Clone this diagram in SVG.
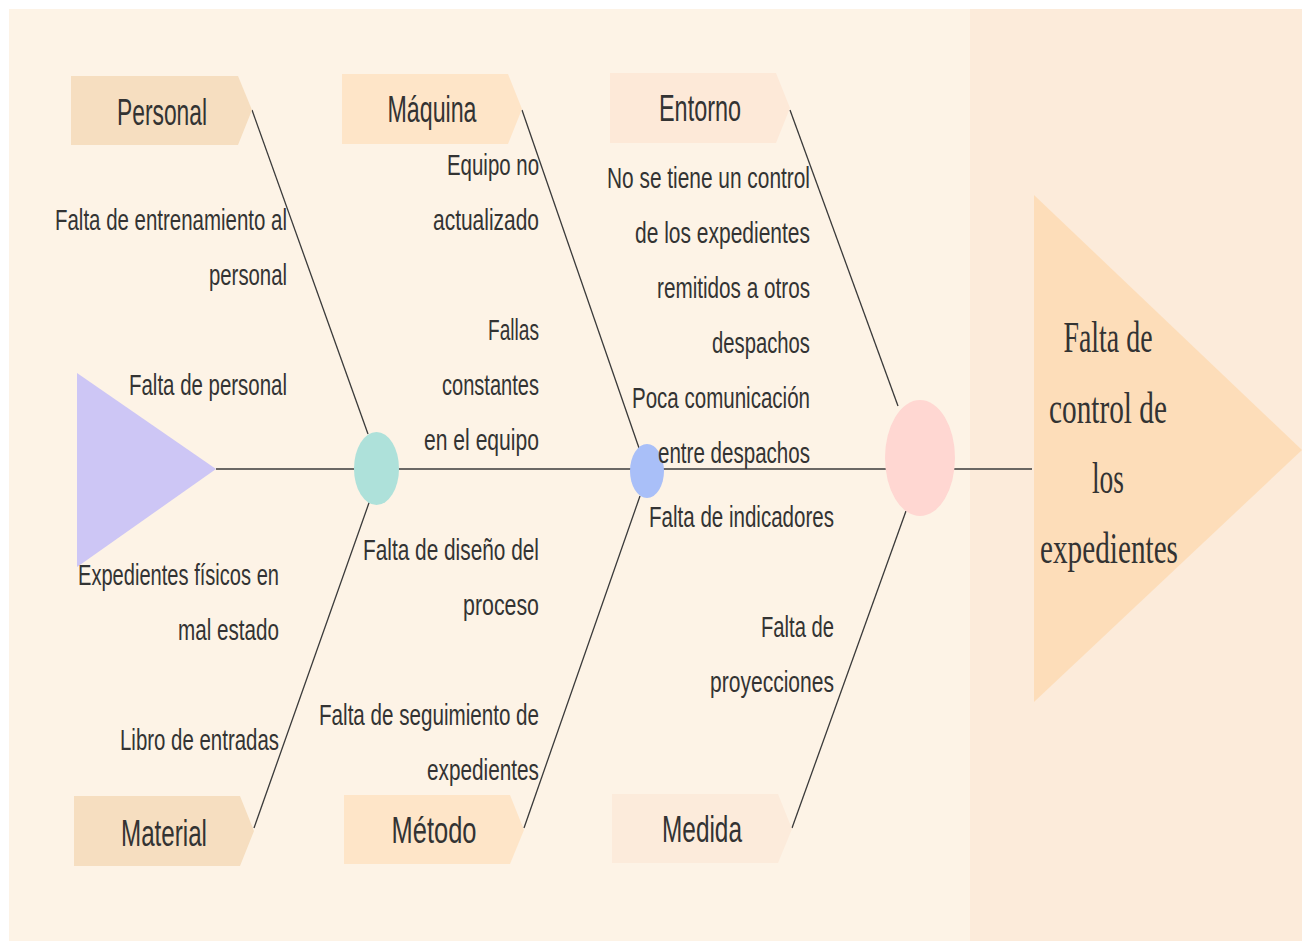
<svg xmlns="http://www.w3.org/2000/svg" width="1302" height="941" viewBox="0 0 1302 941">
<style>
.cat{font-family:"Liberation Sans",Arial,sans-serif;font-size:37px;fill:#333;text-anchor:middle}
.c{font-family:"Liberation Sans",Arial,sans-serif;font-size:29px;fill:#333;text-anchor:end}
.t{font-family:"Liberation Serif","Times New Roman",serif;font-size:44px;fill:#333;text-anchor:middle}
.bone{stroke:#3a3a3a;stroke-width:1.3;fill:none}
</style>
<rect x="0" y="0" width="1302" height="941" fill="#ffffff"/>
<rect x="9" y="9" width="1293" height="932" fill="#FDF3E6"/>
<rect x="970" y="9" width="332" height="932" fill="#FCEBDA"/>

<g id="connectors">
<line class="bone" x1="216" y1="469" x2="1032" y2="469"/>
<line class="bone" x1="252" y1="110" x2="368" y2="434"/>
<line class="bone" x1="522" y1="110" x2="639" y2="448"/>
<line class="bone" x1="790" y1="110" x2="898" y2="406"/>
<line class="bone" x1="254" y1="828" x2="370" y2="500"/>
<line class="bone" x1="524" y1="828" x2="640" y2="496"/>
<line class="bone" x1="792" y1="828" x2="906" y2="511"/>
</g>

<g id="tail"><polygon points="77,373 216,469 77,567" fill="#CDC6F5"/></g>
<g id="head">
<polygon points="1034,195 1302,450 1034,702" fill="#FDDDB9"/>
<text class="t" x="1108" y="352" textLength="89" lengthAdjust="spacingAndGlyphs">Falta de</text>
<text class="t" x="1108" y="423" textLength="118" lengthAdjust="spacingAndGlyphs">control de</text>
<text class="t" x="1108" y="493" textLength="32" lengthAdjust="spacingAndGlyphs">los</text>
<text class="t" x="1109" y="563" textLength="138" lengthAdjust="spacingAndGlyphs">expedientes</text>
</g>

<g id="node-teal"><ellipse cx="376.5" cy="468.5" rx="22.5" ry="36.5" fill="#AEE1DA"/></g>
<g id="node-blue"><ellipse cx="647" cy="471" rx="17" ry="27" fill="#A9BFF8"/></g>
<g id="node-pink"><ellipse cx="920" cy="458" rx="35" ry="58" fill="#FFD7D2"/></g>

<g id="cat-personal">
<polygon points="71,76 238,76 252,110 238,145 71,145" fill="#F6DEC0"/>
<text class="cat" x="162" y="125" textLength="90" lengthAdjust="spacingAndGlyphs">Personal</text>
</g>
<g id="cat-maquina">
<polygon points="342,74 508,74 522,109 508,144 342,144" fill="#FEE5C8"/>
<text class="cat" x="432" y="122" textLength="89" lengthAdjust="spacingAndGlyphs">Máquina</text>
</g>
<g id="cat-entorno">
<polygon points="610,73 776,73 790,108 776,143 610,143" fill="#FDE9D8"/>
<text class="cat" x="700" y="121" textLength="82" lengthAdjust="spacingAndGlyphs">Entorno</text>
</g>
<g id="cat-material">
<polygon points="74,796 240,796 254,831 240,866 74,866" fill="#F6DEC0"/>
<text class="cat" x="164" y="846" textLength="86" lengthAdjust="spacingAndGlyphs">Material</text>
</g>
<g id="cat-metodo">
<polygon points="344,795 510,795 524,830 510,864 344,864" fill="#FEE5C8"/>
<text class="cat" x="434" y="843" textLength="85" lengthAdjust="spacingAndGlyphs">Método</text>
</g>
<g id="cat-medida">
<polygon points="612,794 778,794 792,829 778,863 612,863" fill="#FCEBDB"/>
<text class="cat" x="702" y="842" textLength="80" lengthAdjust="spacingAndGlyphs">Medida</text>
</g>

<g id="causes-personal">
<text class="c" x="287" y="230" textLength="232" lengthAdjust="spacingAndGlyphs">Falta de entrenamiento al</text>
<text class="c" x="287" y="285" textLength="78" lengthAdjust="spacingAndGlyphs">personal</text>
<text class="c" x="287" y="395" textLength="158" lengthAdjust="spacingAndGlyphs">Falta de personal</text>
</g>
<g id="causes-material">
<text class="c" x="279" y="585" textLength="201" lengthAdjust="spacingAndGlyphs">Expedientes físicos en</text>
<text class="c" x="279" y="640" textLength="101" lengthAdjust="spacingAndGlyphs">mal estado</text>
<text class="c" x="279" y="750" textLength="159" lengthAdjust="spacingAndGlyphs">Libro de entradas</text>
</g>
<g id="causes-maquina">
<text class="c" x="539" y="175" textLength="92" lengthAdjust="spacingAndGlyphs">Equipo no</text>
<text class="c" x="539" y="230" textLength="106" lengthAdjust="spacingAndGlyphs">actualizado</text>
<text class="c" x="539" y="340" textLength="51" lengthAdjust="spacingAndGlyphs">Fallas</text>
<text class="c" x="539" y="395" textLength="97" lengthAdjust="spacingAndGlyphs">constantes</text>
<text class="c" x="539" y="450" textLength="115" lengthAdjust="spacingAndGlyphs">en el equipo</text>
</g>
<g id="causes-metodo">
<text class="c" x="539" y="560" textLength="176" lengthAdjust="spacingAndGlyphs">Falta de diseño del</text>
<text class="c" x="539" y="615" textLength="76" lengthAdjust="spacingAndGlyphs">proceso</text>
<text class="c" x="539" y="725" textLength="220" lengthAdjust="spacingAndGlyphs">Falta de seguimiento de</text>
<text class="c" x="539" y="780" textLength="112" lengthAdjust="spacingAndGlyphs">expedientes</text>
</g>
<g id="causes-entorno">
<text class="c" x="810" y="188" textLength="203" lengthAdjust="spacingAndGlyphs">No se tiene un control</text>
<text class="c" x="810" y="243" textLength="175" lengthAdjust="spacingAndGlyphs">de los expedientes</text>
<text class="c" x="810" y="298" textLength="153" lengthAdjust="spacingAndGlyphs">remitidos a otros</text>
<text class="c" x="810" y="353" textLength="98" lengthAdjust="spacingAndGlyphs">despachos</text>
<text class="c" x="810" y="408" textLength="178" lengthAdjust="spacingAndGlyphs">Poca comunicación</text>
<text class="c" x="810" y="463" textLength="152" lengthAdjust="spacingAndGlyphs">entre despachos</text>
</g>
<g id="causes-medida">
<text class="c" x="834" y="527" textLength="185" lengthAdjust="spacingAndGlyphs">Falta de indicadores</text>
<text class="c" x="834" y="637" textLength="73" lengthAdjust="spacingAndGlyphs">Falta de</text>
<text class="c" x="834" y="692" textLength="124" lengthAdjust="spacingAndGlyphs">proyecciones</text>
</g>
</svg>
